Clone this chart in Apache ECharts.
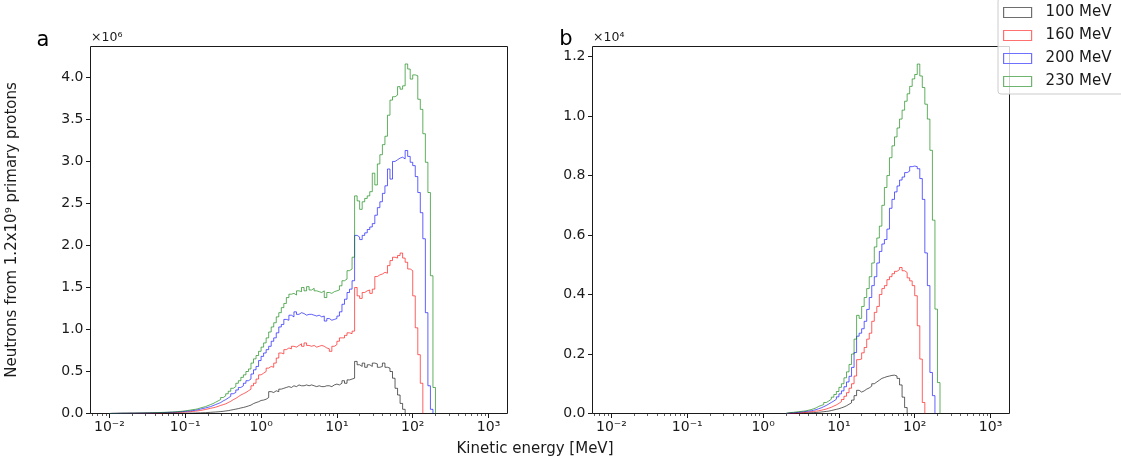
<!DOCTYPE html>
<html><head><meta charset="utf-8">
<script src="https://cdn.jsdelivr.net/npm/echarts@6/dist/echarts.min.js"></script>
<style>html,body{margin:0;padding:0;background:#fff}#c{width:1121px;height:456px}</style>
</head><body><div id="c"></div>
<script>
// ---------------- data ----------------
const seriesNames = ['100 MeV', '160 MeV', '200 MeV', '230 MeV'];
const binsPerDecade = 30;      // log-spaced histogram bins
const firstEdgeExp = -2;       // first bin edge = 10^-2 MeV

// panel a: neutrons (units of 1e6), bins start at bin 0 (0.01 MeV)
const leftStartBin = 0;
const left100 = [
 0.000,0.000,0.000,0.001,0.001,0.001,0.001,0.001,0.001,0.001,0.001,0.001,0.001,0.002,0.002,0.002,0.002,0.002,0.002,0.002,0.003,0.003,0.003,0.003,0.003,0.003,0.003,0.004,0.004,0.004,
 0.004,0.005,0.005,0.006,0.007,0.008,0.009,0.010,0.012,0.014,0.016,0.018,0.020,0.023,0.026,0.030,0.034,0.040,0.046,0.052,0.058,0.066,0.072,0.080,0.090,0.100,0.118,0.130,0.140,0.155,
 0.16,0.17,0.19,0.26,0.25,0.27,0.26,0.29,0.30,0.31,0.32,0.31,0.33,0.32,0.34,0.33,0.33,0.34,0.33,0.34,0.33,0.32,0.33,0.32,0.32,0.33,0.33,0.32,0.34,0.35,
 0.34,0.36,0.39,0.36,0.40,0.41,0.42,0.62,0.58,0.56,0.60,0.55,0.58,0.56,0.60,0.59,0.55,0.56,0.60,0.55,0.54,0.50,0.42,0.30,0.22,0.12,0.05
];
const left160 = [
 0.001,0.001,0.001,0.002,0.002,0.002,0.002,0.003,0.003,0.003,0.003,0.004,0.004,0.004,0.005,0.005,0.006,0.006,0.007,0.007,0.008,0.009,0.010,0.010,0.011,0.012,0.013,0.015,0.016,0.018,
 0.020,0.022,0.025,0.028,0.031,0.036,0.042,0.048,0.055,0.062,0.068,0.075,0.085,0.096,0.105,0.115,0.130,0.145,0.165,0.18,0.20,0.22,0.235,0.25,0.27,0.29,0.33,0.36,0.41,0.46,
 0.48,0.50,0.54,0.56,0.55,0.60,0.66,0.72,0.71,0.76,0.78,0.77,0.80,0.79,0.81,0.83,0.80,0.84,0.81,0.80,0.81,0.79,0.80,0.81,0.80,0.78,0.77,0.74,0.80,0.82,
 0.86,0.90,0.90,0.93,0.96,0.95,0.98,1.50,1.40,1.37,1.44,1.46,1.47,1.43,1.48,1.63,1.65,1.66,1.68,1.67,1.76,1.82,1.86,1.85,1.88,1.91,1.85,1.80,1.72,1.70,
 1.40,1.02,0.70,0.36
];
const left200 = [
 0.001,0.002,0.002,0.002,0.003,0.003,0.003,0.004,0.004,0.004,0.005,0.005,0.005,0.006,0.006,0.007,0.008,0.008,0.009,0.010,0.011,0.012,0.013,0.014,0.015,0.017,0.019,0.021,0.023,0.025,
 0.028,0.031,0.035,0.039,0.044,0.052,0.060,0.066,0.074,0.082,0.094,0.106,0.118,0.130,0.150,0.165,0.185,0.205,0.235,0.25,0.28,0.31,0.33,0.36,0.39,0.41,0.47,0.52,0.56,0.63,
 0.68,0.72,0.76,0.80,0.86,0.90,0.96,1.03,1.06,1.12,1.11,1.17,1.15,1.21,1.18,1.20,1.19,1.17,1.18,1.18,1.17,1.16,1.17,1.15,1.16,1.10,1.13,1.11,1.12,1.13,
 1.16,1.21,1.30,1.36,1.44,1.48,1.58,2.12,2.10,2.07,2.12,2.15,2.19,2.22,2.26,2.36,2.45,2.52,2.62,2.71,2.91,2.79,3.00,3.02,3.04,3.05,3.03,3.13,3.06,2.99,
 2.95,2.82,2.63,2.39,2.08,1.20,0.33,0.05
];
const left230 = [
 0.002,0.002,0.003,0.003,0.003,0.004,0.004,0.004,0.005,0.005,0.006,0.006,0.007,0.007,0.008,0.008,0.009,0.010,0.011,0.012,0.013,0.014,0.015,0.017,0.018,0.020,0.022,0.025,0.028,0.032,
 0.036,0.040,0.046,0.050,0.056,0.066,0.074,0.082,0.094,0.106,0.118,0.134,0.150,0.166,0.19,0.21,0.235,0.265,0.30,0.32,0.36,0.39,0.43,0.46,0.50,0.53,0.60,0.65,0.69,0.74,
 0.79,0.84,0.90,0.97,1.03,1.08,1.15,1.20,1.26,1.31,1.38,1.42,1.43,1.41,1.46,1.45,1.50,1.46,1.51,1.47,1.49,1.46,1.45,1.44,1.46,1.38,1.44,1.43,1.45,1.46,
 1.47,1.52,1.58,1.60,1.70,1.72,1.86,2.59,2.53,2.43,2.52,2.56,2.59,2.64,2.86,2.72,2.97,3.08,3.20,3.30,3.55,3.73,3.77,3.79,3.89,3.86,3.90,4.16,4.10,3.98,
 4.03,4.02,3.74,3.62,3.33,2.99,2.63,1.64,0.31
];

// panel b: (units of 1e4), bins start at bin 69 (2 MeV)
const rightStartBin = 69;
const right100 = [
 0.0003,0.0005,0.0006,0.0008,0.001,0.0012,0.0015,0.0018,0.002,0.0025,0.003,0.0035,0.004,0.005,0.006,0.007,0.008,0.010,0.012,0.014,0.016,
 0.019,0.022,0.026,0.031,0.036,0.045,0.060,0.078,0.072,0.076,0.082,0.086,0.092,0.100,0.106,0.112,0.118,0.121,0.124,0.126,0.128,0.129,0.126,0.118,0.096,0.055,0.02
];
const right160 = [
 0.0005,0.001,0.001,0.0015,0.002,0.002,0.003,0.004,0.005,0.006,0.007,0.008,0.009,0.011,0.013,0.015,0.018,0.021,0.025,0.029,0.034,
 0.040,0.047,0.058,0.070,0.085,0.100,0.126,0.181,0.183,0.204,0.222,0.25,0.27,0.31,0.34,0.36,0.40,0.42,0.43,0.45,0.46,0.47,0.478,0.484,0.491,0.48,0.474,0.456,0.446,0.43,
 0.396,0.295,0.183,0.037
];
const right200 = [
 0.001,0.002,0.002,0.003,0.004,0.005,0.006,0.007,0.008,0.009,0.011,0.013,0.016,0.019,0.023,0.027,0.032,0.037,0.042,0.048,0.056,
 0.066,0.076,0.090,0.106,0.125,0.155,0.205,0.26,0.27,0.285,0.31,0.35,0.39,0.43,0.46,0.506,0.545,0.57,0.585,0.62,0.69,0.72,0.745,0.765,0.785,0.795,0.81,0.815,0.83,0.832,
 0.83,0.823,0.79,0.72,0.54,0.43,0.138,0.06
];
const right230 = [
 0.002,0.003,0.004,0.005,0.006,0.007,0.008,0.009,0.011,0.013,0.016,0.019,0.024,0.027,0.030,0.037,0.042,0.048,0.055,0.064,0.074,
 0.088,0.100,0.120,0.140,0.165,0.200,0.25,0.33,0.32,0.36,0.39,0.42,0.46,0.506,0.56,0.59,0.63,0.70,0.76,0.80,0.86,0.90,0.93,0.96,0.99,1.02,1.05,1.075,1.10,1.125,
 1.14,1.175,1.135,1.096,1.04,0.99,0.885,0.65,0.351,0.104
];

const xTickValues = [0.01, 0.1, 1, 10, 100, 1000];
const leftYTicks = [0, 0.5, 1.0, 1.5, 2.0, 2.5, 3.0, 3.5, 4.0];
const rightYTicks = [0, 0.2, 0.4, 0.6, 0.8, 1.0, 1.2];
const minorMultipliers = [2, 3, 4, 5, 6, 7, 8, 9];
const minorExponents = [-3, -2, -1, 0, 1, 2, 3];

// ---------------- chart ----------------
const colors = ['rgba(0,0,0,0.62)', 'rgba(255,0,0,0.62)', 'rgba(0,0,255,0.62)', 'rgba(0,128,0,0.62)'];
const legendColors = ['#6e6e6e', '#ff7070', '#7070ff', '#6fb56f'];
const font = 'DejaVu Sans';
const txt = '#1a1a1a';
const xMin = Math.pow(10, -2.25), xMax = Math.pow(10, 3.25);

const minorTicks = [];
minorExponents.forEach(e => minorMultipliers.forEach(m => {
  const v = m * Math.pow(10, e);
  if (v > xMin && v < xMax) minorTicks.push(v);
}));

const supMap = {'-': '\u207B', '0': '\u2070', '1': '\u00B9', '2': '\u00B2', '3': '\u00B3', '4': '\u2074', '5': '\u2075', '6': '\u2076', '7': '\u2077', '8': '\u2078', '9': '\u2079'};
const sup = s => String(s).split('').map(c => supMap[c]).join('');

function edge(k) { return Math.pow(10, firstEdgeExp + k / binsPerDecade); }
function histPoints(start, vals) {
  const pts = [[edge(start), 0]];
  vals.forEach((v, i) => pts.push([edge(start + i), v]));
  pts.push([edge(start + vals.length), 0]);
  return pts;
}

const grids = [
  {left: 90.5, top: 46.5, width: 417, height: 367},
  {left: 592.5, top: 46.5, width: 417, height: 367}
];

function xAxes(gi) {
  return [
    {gridIndex: gi, type: 'log', logBase: 10, min: xMin, max: xMax, position: 'bottom',
     axisLine: {show: false}, splitLine: {show: false},
     axisTick: {show: true, customValues: xTickValues, length: 4.5, lineStyle: {color: txt, width: 1}},
     axisLabel: {show: true, customValues: xTickValues, margin: 7, fontSize: 14, color: txt, fontFamily: font,
       formatter: v => '10' + sup(Math.round(Math.log10(v)))}},
    {gridIndex: gi, type: 'log', logBase: 10, min: xMin, max: xMax, position: 'bottom',
     axisLine: {show: false}, splitLine: {show: false}, axisLabel: {show: false},
     axisTick: {show: true, customValues: minorTicks, length: 2.5, lineStyle: {color: txt, width: 0.7}}}
  ];
}
function yAxis(gi, max, ticks) {
  return {gridIndex: gi, type: 'value', min: 0, max: max,
    axisLine: {show: false}, splitLine: {show: false},
    axisTick: {show: true, customValues: ticks, length: 4.5, lineStyle: {color: txt, width: 1}},
    axisLabel: {show: true, customValues: ticks, margin: 7, fontSize: 14, color: txt, fontFamily: font,
      formatter: v => v.toFixed(1)}};
}

const leftData = [left100, left160, left200, left230];
const rightData = [right100, right160, right200, right230];
const series = [];
leftData.forEach((vals, i) => series.push({
  type: 'line', name: seriesNames[i], xAxisIndex: 0, yAxisIndex: 0, step: 'end',
  data: histPoints(leftStartBin, vals), symbol: 'none', showSymbol: false, silent: true,
  lineStyle: {color: colors[i], width: 1}, itemStyle: {color: colors[i]}
}));
rightData.forEach((vals, i) => series.push({
  type: 'line', name: seriesNames[i], xAxisIndex: 2, yAxisIndex: 1, step: 'end',
  data: histPoints(rightStartBin, vals), symbol: 'none', showSymbol: false, silent: true,
  lineStyle: {color: colors[i], width: 1}, itemStyle: {color: colors[i]}
}));

const chart = echarts.init(document.getElementById('c'), null, {renderer: 'canvas'});
chart.setOption({
  animation: false,
  backgroundColor: '#fff',
  grid: grids.map(g => Object.assign({show: true, borderColor: txt, borderWidth: 1, backgroundColor: 'transparent'}, g)),
  xAxis: xAxes(0).concat(xAxes(1)),
  yAxis: [yAxis(0, 4.368, leftYTicks), yAxis(1, 1.234, rightYTicks)],
  legend: {
    orient: 'vertical', left: 998, top: -2,
    itemWidth: 28, itemHeight: 10, itemGap: 8,
    padding: [7, 40, 5, 5],
    backgroundColor: 'rgba(255,255,255,0.8)', borderColor: '#cccccc', borderWidth: 1, borderRadius: 3,
    textStyle: {fontSize: 15, color: txt, fontFamily: font, padding: [0, 0, 0, 9]},
    data: seriesNames.map((n, i) => ({name: n, icon: 'rect',
      itemStyle: {color: 'rgba(255,255,255,0)', borderColor: legendColors[i], borderWidth: 1.2}}))
  },
  graphic: [
    {type: 'text', x: 43, y: 41, style: {text: 'a', fontSize: 21, fill: '#000', fontFamily: font, align: 'center', verticalAlign: 'middle'}},
    {type: 'text', x: 566, y: 40, style: {text: 'b', fontSize: 21, fill: '#000', fontFamily: font, align: 'center', verticalAlign: 'middle'}},
    {type: 'text', x: 91, y: 38, style: {text: '\u00D710' + sup(6), fontSize: 12.5, fill: txt, fontFamily: font, align: 'left', verticalAlign: 'middle'}},
    {type: 'text', x: 593, y: 38, style: {text: '\u00D710' + sup(4), fontSize: 12.5, fill: txt, fontFamily: font, align: 'left', verticalAlign: 'middle'}},
    {type: 'text', x: 12, y: 230, rotation: Math.PI / 2,
     style: {text: 'Neutrons from 1.2x10' + sup(9) + ' primary protons', fontSize: 15, fill: txt, fontFamily: font, align: 'center', verticalAlign: 'middle'}},
    {type: 'text', x: 535, y: 449, style: {text: 'Kinetic energy [MeV]', fontSize: 15, fill: txt, fontFamily: font, align: 'center', verticalAlign: 'middle'}}
  ],
  series: series
});
</script>
</body></html>
